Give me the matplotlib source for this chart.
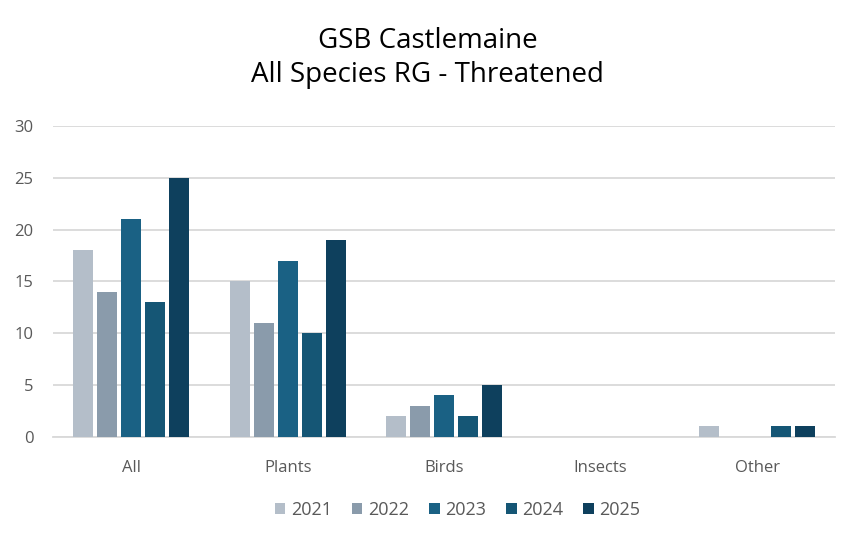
import matplotlib
matplotlib.use("Agg")
import matplotlib.pyplot as plt
import numpy as np

categories = ["All", "Plants", "Birds", "Insects", "Other"]
years = ["2021", "2022", "2023", "2024", "2025"]
v2021 = [18, 15, 2, 0, 1]
v2022 = [14, 11, 3, 0, 0]
v2023 = [21, 17, 4, 0, 0]
v2024 = [13, 10, 2, 0, 1]
v2025 = [25, 19, 5, 0, 1]
series = [v2021, v2022, v2023, v2024, v2025]
colors = ["#B4BEC9", "#8A9BAB", "#1A6184", "#155675", "#0E405D"]

plt.rcParams['font.family'] = ['Open Sans', 'DejaVu Sans']
fig = plt.figure(figsize=(8.55, 5.36), dpi=100)
ax = fig.add_axes([0.062, 0.185, 0.915, 0.58])

x = np.arange(len(categories))
bw = 20 / 156
step = 24 / 156
for i, (s, c) in enumerate(zip(series, colors)):
    ax.bar(x + (i - 2) * step, s, width=bw, color=c, label=years[i], zorder=3)

ax.set_xlim(-0.5, 4.5)
ax.set_ylim(0, 30)
ax.set_yticks(range(0, 31, 5))
ax.grid(axis='y', color='#D9D9D9', linewidth=1.3, zorder=0)
for sp in ['top', 'right', 'left']:
    ax.spines[sp].set_visible(False)
ax.spines['bottom'].set_color('#D9D9D9')
ax.spines['bottom'].set_linewidth(1.3)
ax.set_xticks(x)
ax.set_xticklabels(categories)
ax.tick_params(axis='both', length=0, colors='#595959', labelsize=12)
ax.tick_params(axis='x', pad=17)
ax.tick_params(axis='y', pad=14)

fig.suptitle("GSB Castlemaine\nAll Species RG - Threatened", y=0.95, fontsize=20,
             color='black', linespacing=1.3)

leg = fig.legend(loc='lower center', ncol=5, frameon=False, bbox_to_anchor=(0.535, 0.002),
                 fontsize=13, handlelength=0.6, handleheight=0.6, columnspacing=1.1,
                 handletextpad=0.3)
for t in leg.get_texts():
    t.set_color('#595959')

fig.savefig("out.png", dpi=100)
